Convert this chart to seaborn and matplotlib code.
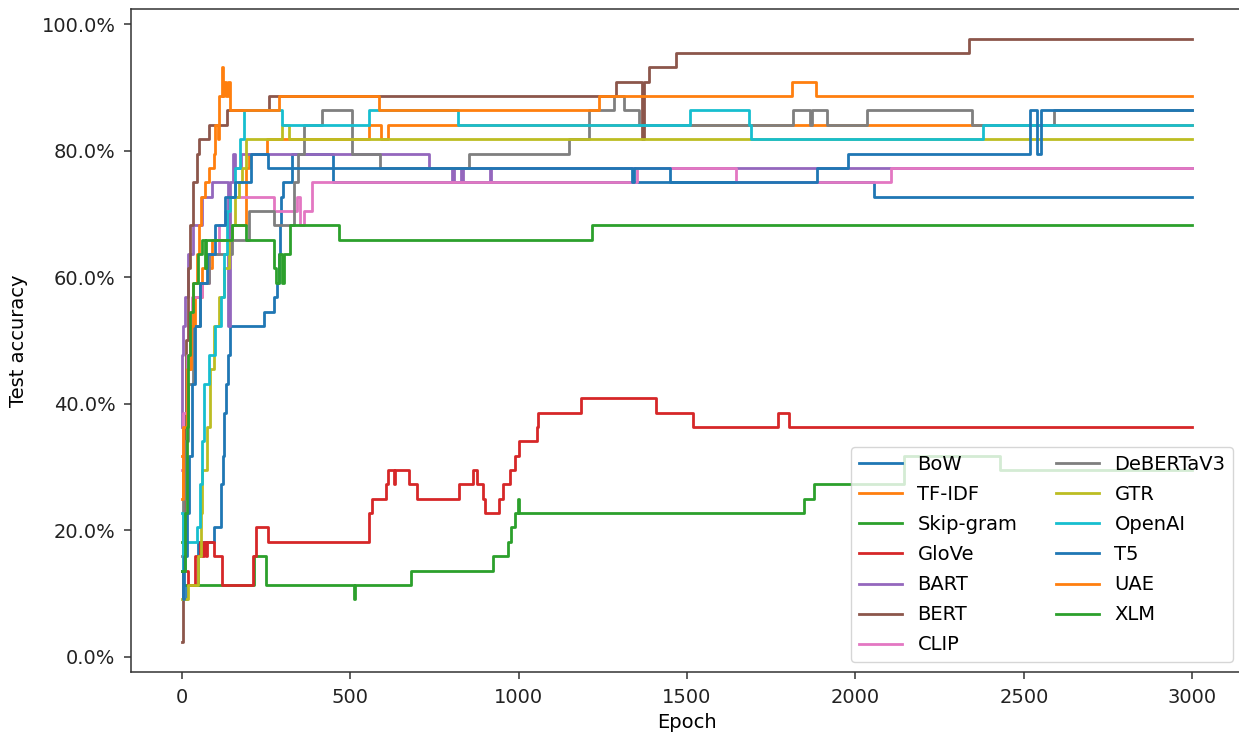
import matplotlib
matplotlib.use("Agg")
import matplotlib.pyplot as plt
import seaborn as sns
import pandas as pd
from matplotlib.ticker import PercentFormatter

models = ["BoW", "TF-IDF", "Skip-gram", "GloVe", "BART", "BERT", "CLIP",
          "DeBERTaV3", "GTR", "OpenAI", "T5", "UAE", "XLM"]

# step change points: epoch and test accuracy (%)
bow_epoch = [0, 5, 15, 50, 95, 117, 122, 127, 132, 137, 145, 244, 274, 284, 288, 292, 296, 300, 328, 448, 2054, 3000]
bow_acc = [13.6, 9.1, 11.4, 18.2, 20.5, 27.3, 31.8, 38.6, 43.2, 47.7, 52.3, 54.5, 56.8, 59.1, 63.6, 68.2, 72.7, 75.0, 79.5, 75.0, 72.7, 72.7]

tfidf_epoch = [0, 3, 8, 15, 25, 40, 60, 90, 150, 190, 200, 255, 556, 591, 612, 3000]
tfidf_acc = [31.8, 25.0, 36.4, 45.5, 52.3, 56.8, 61.4, 65.9, 68.2, 77.3, 79.5, 81.8, 84.1, 81.8, 84.1, 84.1]

skipgram_epoch = [0, 4, 214, 250, 511, 516, 681, 925, 968, 978, 991, 997, 1002, 1847, 1876, 2143, 2428, 3000]
skipgram_acc = [18.2, 11.4, 15.9, 11.4, 9.1, 11.4, 13.6, 15.9, 18.2, 20.5, 22.7, 25.0, 22.7, 25.0, 27.3, 31.8, 29.5, 29.5]

glove_epoch = [0, 20, 40, 56, 62, 66, 72, 77, 95, 121, 211, 222, 256, 556, 564, 578, 608, 614, 630, 634, 676, 700,
               822, 866, 878, 896, 902, 941, 955, 976, 990, 1000, 1056, 1059, 1184, 1409, 1519, 1771, 1804, 3000]
glove_acc = [13.6, 11.4, 15.9, 18.2, 15.9, 18.2, 15.9, 18.2, 15.9, 11.4, 15.9, 20.5, 18.2, 22.7, 25.0, 25.0, 27.3, 29.5, 27.3, 29.5, 27.3, 25.0,
             27.3, 29.5, 27.3, 25.0, 22.7, 25.0, 27.3, 29.5, 31.8, 34.1, 36.4, 38.6, 40.9, 38.6, 36.4, 38.6, 36.4, 36.4]

bart_epoch = [0, 2, 5, 10, 20, 35, 60, 90, 137, 145, 152, 160, 175, 733, 804, 809, 829, 834, 914, 918, 3000]
bart_acc = [36.4, 47.7, 52.3, 56.8, 63.6, 68.2, 72.7, 75.0, 52.3, 75.0, 79.5, 77.3, 79.5, 77.3, 75.0, 77.3, 75.0, 77.3, 75.0, 77.3, 77.3]

bert_epoch = [0, 3, 5, 8, 12, 18, 25, 35, 45, 52, 81, 136, 259, 1288, 1367, 1371, 1387, 1466, 2336, 3000]
bert_acc = [2.3, 9.1, 20.5, 36.4, 50.0, 61.4, 68.2, 75.0, 79.5, 81.8, 84.1, 86.4, 88.6, 90.9, 81.8, 90.9, 93.2, 95.5, 97.7, 97.7]

clip_epoch = [0, 5, 15, 30, 60, 80, 110, 130, 145, 274, 343, 353, 362, 388, 1352, 1644, 2104, 3000]
clip_acc = [29.5, 38.6, 47.7, 56.8, 59.1, 63.6, 68.2, 70.5, 72.7, 70.5, 72.7, 68.2, 70.5, 75.0, 77.3, 75.0, 77.3, 77.3]

deberta_epoch = [0, 5, 10, 20, 35, 55, 80, 150, 199, 274, 335, 345, 363, 417, 506, 590, 853, 1149, 1209, 1283, 1312,
                 1357, 1816, 1866, 1872, 1916, 2033, 2347, 2588, 3000]
deberta_acc = [15.9, 25.0, 34.1, 43.2, 52.3, 59.1, 63.6, 65.9, 70.5, 68.2, 75.0, 79.5, 84.1, 86.4, 79.5, 77.3, 79.5, 81.8, 86.4, 88.6, 86.4,
               84.1, 86.4, 84.1, 86.4, 84.1, 86.4, 84.1, 86.4, 86.4]

gtr_epoch = [0, 20, 50, 58, 62, 75, 85, 95, 110, 125, 140, 150, 160, 170, 180, 190, 299, 318, 3000]
gtr_acc = [9.1, 11.4, 15.9, 22.7, 29.5, 36.4, 45.5, 52.3, 56.8, 61.4, 65.9, 68.2, 72.7, 75.0, 77.3, 81.8, 84.1, 81.8, 81.8]

openai_epoch = [0, 3, 10, 45, 55, 62, 68, 80, 100, 116, 125, 135, 145, 160, 172, 184, 299, 556, 820, 1510, 1684, 1690, 2378, 3000]
openai_acc = [22.7, 13.6, 18.2, 20.5, 27.3, 34.1, 43.2, 47.7, 52.3, 56.8, 63.6, 70.5, 72.7, 77.3, 81.8, 86.4, 84.1, 86.4, 84.1, 86.4, 84.1, 81.8, 84.1, 84.1]

t5_epoch = [0, 3, 8, 15, 22, 30, 40, 55, 75, 100, 130, 160, 205, 258, 1338, 1342, 1451, 1887, 1979, 2517, 2538, 2550, 3000]
t5_acc = [13.6, 9.1, 15.9, 22.7, 31.8, 43.2, 52.3, 59.1, 63.6, 68.2, 72.7, 75.0, 79.5, 77.3, 75.0, 77.3, 75.0, 77.3, 79.5, 86.4, 79.5, 86.4, 86.4]

uae_epoch = [0, 5, 15, 27, 35, 45, 52, 58, 70, 80, 95, 100, 108, 112, 119, 123, 127, 133, 138, 145, 289, 586, 1238, 1812, 1884, 3000]
uae_acc = [25.0, 36.4, 45.5, 52.3, 59.1, 63.6, 68.2, 72.7, 75.0, 77.3, 79.5, 84.1, 81.8, 88.6, 93.2, 88.6, 90.9, 88.6, 90.9, 86.4, 88.6, 86.4, 88.6, 90.9, 88.6, 88.6]

xlm_epoch = [0, 10, 15, 20, 25, 35, 50, 61, 70, 74, 150, 190, 274, 280, 290, 297, 305, 323, 467, 1219, 3000]
xlm_acc = [13.6, 22.7, 36.4, 47.7, 54.5, 59.1, 63.6, 65.9, 61.4, 65.9, 68.2, 65.9, 61.4, 59.1, 63.6, 59.1, 63.6, 68.2, 65.9, 68.2, 68.2]

series = {
    "BoW": (bow_epoch, bow_acc), "TF-IDF": (tfidf_epoch, tfidf_acc),
    "Skip-gram": (skipgram_epoch, skipgram_acc), "GloVe": (glove_epoch, glove_acc),
    "BART": (bart_epoch, bart_acc), "BERT": (bert_epoch, bert_acc),
    "CLIP": (clip_epoch, clip_acc), "DeBERTaV3": (deberta_epoch, deberta_acc),
    "GTR": (gtr_epoch, gtr_acc), "OpenAI": (openai_epoch, openai_acc),
    "T5": (t5_epoch, t5_acc), "UAE": (uae_epoch, uae_acc), "XLM": (xlm_epoch, xlm_acc),
}

rows = []
for m in models:
    ep, ac = series[m]
    for e, a in zip(ep, ac):
        rows.append({"Epoch": e, "acc": a, "model": m})
df = pd.DataFrame(rows)

tab10 = sns.color_palette("tab10")
palette = [tab10[i % 10] for i in range(len(models))]

FS = 14
plt.rcParams["font.family"] = ["DejaVu Sans"]
plt.rcParams["axes.linewidth"] = 1.1
plt.rcParams["xtick.major.width"] = 1.1
plt.rcParams["ytick.major.width"] = 1.1
plt.rcParams["xtick.major.size"] = 4.7
plt.rcParams["ytick.major.size"] = 4.7
plt.rcParams["xtick.major.pad"] = 6.5
plt.rcParams["ytick.major.pad"] = 6.5

fig = plt.figure(figsize=(12.39, 7.36), dpi=100)
ax = fig.add_axes([131 / 1239, 1 - 672 / 736, (1243 - 131) / 1239, (672 - 9) / 736])

sns.lineplot(data=df, x="Epoch", y="acc", hue="model", hue_order=models, palette=palette,
             estimator=None, drawstyle="steps-post", linewidth=2.0, ax=ax)

ax.set_xlim(-150, 3150)
ax.set_ylim(-2.4, 102.4)
ax.set_xticks([0, 500, 1000, 1500, 2000, 2500, 3000])
ax.set_yticks([0, 20, 40, 60, 80, 100])
ax.yaxis.set_major_formatter(PercentFormatter(100, decimals=1))
ax.tick_params(labelsize=FS, colors="#333333", labelcolor="#222222")
ax.set_xlabel("Epoch", fontsize=FS, labelpad=5)
ax.set_ylabel("Test accuracy", fontsize=FS, labelpad=10)
for s in ax.spines.values():
    s.set_color("#333333")

sns.move_legend(ax, "lower right", ncol=2, title=None, fontsize=FS, frameon=True,
                handlelength=2.2, labelspacing=0.57)

fig.savefig("out.png", dpi=100)
